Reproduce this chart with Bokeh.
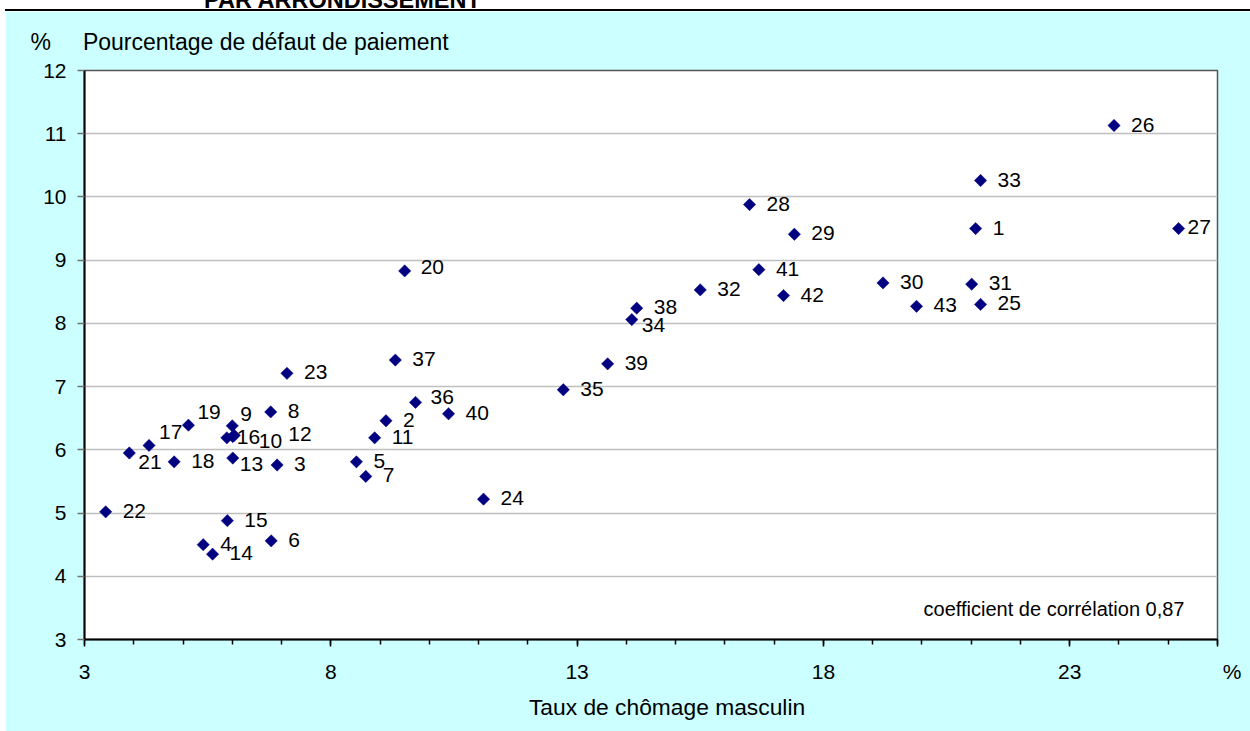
import numpy as np
from bokeh.plotting import figure
from bokeh.models import ColumnDataSource, FixedTicker, Label, Range1d, Title, Div
from bokeh.core.properties import value
from bokeh.embed import file_html
from bokeh.resources import INLINE

# ---------------- data ----------------
arrondissement = list(range(1, 44))
chomage_masculin = [21.09, 9.12, 6.91, 5.41, 8.52, 6.79, 8.71, 6.78, 6.00, 6.01,
                    8.89, 6.04, 6.01, 5.60, 5.90, 5.89, 4.31, 4.82, 5.11, 9.50,
                    3.91, 3.43, 7.11, 11.10, 21.19, 23.90, 25.21, 16.50, 17.41, 19.21,
                    21.01, 15.50, 21.19, 14.11, 12.72, 9.72, 9.31, 14.21, 13.62, 10.39,
                    16.69, 17.19, 19.89]
defaut_paiement = [9.50, 6.46, 5.76, 4.50, 5.81, 4.56, 5.58, 6.60, 6.38, 6.21,
                   6.19, 6.23, 5.87, 4.35, 4.88, 6.19, 6.07, 5.81, 6.39, 8.83,
                   5.95, 5.02, 7.21, 5.22, 8.30, 11.13, 9.50, 9.88, 9.41, 8.64,
                   8.62, 8.53, 10.26, 8.06, 6.95, 6.75, 7.42, 8.24, 7.36, 6.57,
                   8.85, 8.44, 8.27]
x_major_ticks = [3, 8, 13, 18, 23]
x_minor_ticks = list(range(3, 27))
x_unit_tick = 26
y_ticks = list(range(3, 13))
title_text = "PAR ARRONDISSEMENT"
y_unit = "%"
y_title = "Pourcentage de défaut de paiement"
x_unit = "%"
x_title = "Taux de chômage masculin"
corr_text = "coefficient de corrélation 0,87"

# ---------------- style ----------------
FONT = "Liberation Sans"
NB = "\u00A0"
W, H = 1245, 720          # canvas placed at page (5, 11)
DEFAULT_NUDGE = (17, -1)  # label offset in px (right, down)
NUDGE = {17: (10, -13), 19: (9, -13), 9: (8, -12), 16: (10, -1), 10: (26, 4),
         12: (54, -1), 21: (9, 9), 13: (7, 6), 36: (15, -5), 34: (10, 5),
         27: (9, -2), 20: (16, -4)}
dx = [NUDGE.get(a, DEFAULT_NUDGE)[0] for a in arrondissement]
dy = [NUDGE.get(a, DEFAULT_NUDGE)[1] for a in arrondissement]

src = ColumnDataSource(dict(x=chomage_masculin, y=defaut_paiement,
                            lab=[str(a) for a in arrondissement], dx=dx, dy=dy))

p = figure(width=W, height=H, output_backend="svg", toolbar_location=None,
           x_range=Range1d(3, 26), y_range=Range1d(3, 12),
           min_border_left=79, min_border_right=33, min_border_top=59,
           min_border_bottom=92)
p.styles = {"position": "absolute", "left": "5px", "top": "11px",
            "box-shadow": "0px -2px 0px 0px black"}
p.border_fill_color = "#CCFFFF"
p.background_fill_color = "white"
p.outline_line_color = "#555555"
p.outline_line_width = 1.5

# y title (with its unit) above the plot area
p.title.text = y_unit + NB * 5 + y_title
p.title.align = "left"
p.title.offset = -54
p.title.standoff = 31
p.title.text_font = FONT
p.title.text_font_size = "23px"
p.title.text_font_style = "normal"
p.title.text_color = "black"

# grid
p.xgrid.visible = False
p.ygrid.ticker = FixedTicker(ticks=y_ticks)
p.ygrid.grid_line_color = "#BFBFBF"
p.ygrid.grid_line_width = 1.5

# x axis
xa = p.xaxis[0]
xa.ticker = FixedTicker(ticks=x_major_ticks + [x_unit_tick], minor_ticks=x_minor_ticks)
xa.major_label_overrides = {x_unit_tick: NB * 5 + x_unit}
xa.axis_line_color = "black"
xa.axis_line_width = 2
xa.major_tick_line_color = "black"
xa.major_tick_line_width = 1.5
xa.major_tick_out = 7
xa.major_tick_in = 0
xa.minor_tick_line_color = "black"
xa.minor_tick_line_width = 1.5
xa.minor_tick_out = 5
xa.minor_tick_in = 0
xa.major_label_text_font = FONT
xa.major_label_text_font_size = "21px"
xa.major_label_text_color = "black"
xa.major_label_standoff = 13

# y axis
ya = p.yaxis[0]
ya.ticker = FixedTicker(ticks=y_ticks)
ya.axis_line_color = "black"
ya.axis_line_width = 2
ya.major_tick_line_color = "#707070"
ya.major_tick_line_width = 1.5
ya.major_tick_out = 7
ya.major_tick_in = 0
ya.minor_tick_line_color = None
ya.major_label_text_font = FONT
ya.major_label_text_font_size = "21px"
ya.major_label_text_color = "black"
ya.major_label_standoff = 11

# x title below the axis
p.add_layout(Title(text=x_title, align="left", offset=444.4, standoff=13,
                   text_font=FONT, text_font_size="22.8px",
                   text_font_style="normal", text_color="black"), "below")

# points and labels
p.scatter(x="x", y="y", source=src, marker="square", size=8.7, angle=np.pi / 4,
          fill_color="#000080", line_color="#000080", line_width=0.5)
p.text(x="x", y="y", text="lab", x_offset="dx", y_offset="dy", source=src,
       text_font=value(FONT), text_font_size="21px", text_color="black",
       text_align="left", text_baseline="middle")

p.add_layout(Label(x=25.33, y=3.49, text=corr_text, text_font=FONT,
                   text_font_size="20px", text_align="right",
                   text_baseline="alphabetic", text_color="black"))

# page heading, cut off by the top of the page as in the original
head = Div(text=title_text, width=400, height=27,
           styles={"position": "absolute", "left": "199px", "top": "-20.5px",
                   "overflow": "hidden", "font-family": FONT, "font-weight": "bold",
                   "font-size": "23.5px", "line-height": "30px", "white-space": "nowrap",
                   "color": "black"})

open("out.html", "w").write(file_html([head, p], INLINE))
